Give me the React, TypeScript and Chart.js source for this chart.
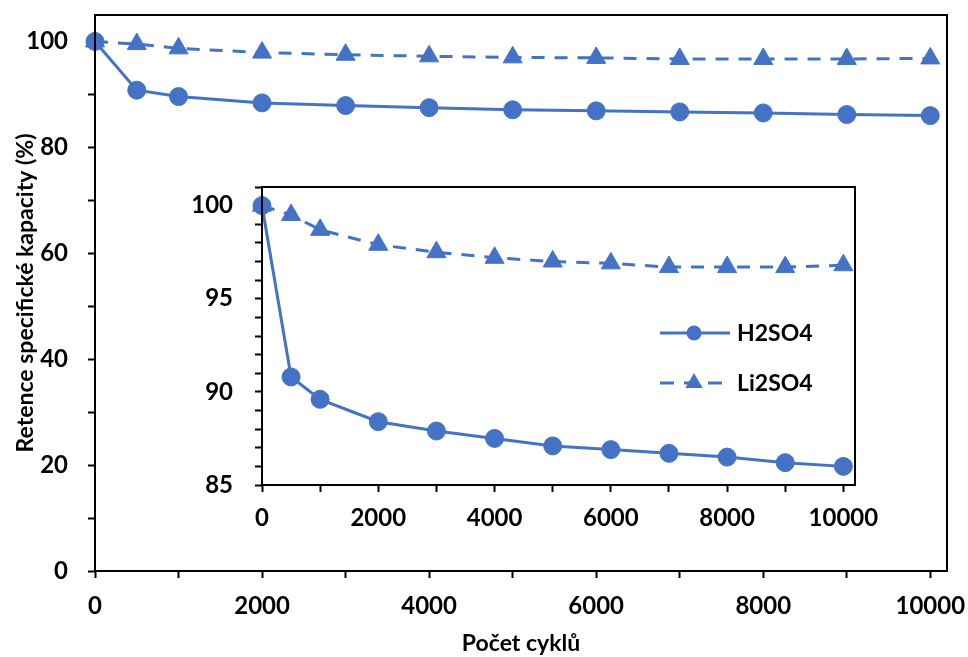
import React, { useEffect, useRef } from "react";
import { Chart, registerables } from "chart.js";

Chart.register(...registerables);

// ---- data ----
const cycles = [0, 500, 1000, 2000, 3000, 4000, 5000, 6000, 7000, 8000, 9000, 10000];
const h2so4 = [100, 90.8, 89.6, 88.4, 87.9, 87.5, 87.1, 86.9, 86.7, 86.5, 86.2, 86.0];
const li2so4 = [100, 99.5, 98.7, 97.9, 97.5, 97.2, 97.0, 96.9, 96.7, 96.7, 96.7, 96.8];
const seriesNames = ["H2SO4", "Li2SO4"];
const xTitle = "Počet cyklů";
const yTitle = "Retence specifické kapacity (%)";

// tick marks (all) and labelled ticks
const xTickMarks = [0, 1000, 2000, 3000, 4000, 5000, 6000, 7000, 8000, 9000, 10000];
const xTickLabels = [0, 2000, 4000, 6000, 8000, 10000];
const mainYTickMarks = [0, 10, 20, 30, 40, 50, 60, 70, 80, 90, 100];
const mainYTickLabels = [0, 20, 40, 60, 80, 100];
const insetYTickMarks = [85, 86, 87, 88, 89, 90, 91, 92, 93, 94, 95, 96, 97, 98, 99, 100, 101];
const insetYTickLabels = [85, 90, 95, 100];

const BLUE = "#4472C4";
const FONT = "Lato, 'Open Sans', sans-serif";

const boxPlugin = {
  id: "boxPlugin",
  afterDraw(chart: any) {
    const { ctx, chartArea: a } = chart;
    ctx.save();
    ctx.strokeStyle = "#000";
    ctx.lineWidth = 2;
    ctx.strokeRect(a.left, a.top, a.right - a.left, a.bottom - a.top);
    ctx.restore();
  },
};

const legendPlugin = {
  id: "insetLegend",
  afterDraw(chart: any) {
    const { ctx } = chart;
    const rows = [
      { name: seriesNames[0], y: 158, dash: [] as number[], style: "circle", r: 7.5 },
      { name: seriesNames[1], y: 208, dash: [14, 10], style: "triangle", r: 10 },
    ];
    ctx.save();
    for (const row of rows) {
      ctx.strokeStyle = BLUE;
      ctx.fillStyle = BLUE;
      ctx.lineWidth = 3;
      ctx.setLineDash(row.dash);
      ctx.beginPath();
      ctx.moveTo(480, row.y);
      ctx.lineTo(550, row.y);
      ctx.stroke();
      ctx.setLineDash([]);
      ctx.beginPath();
      if (row.style === "circle") {
        ctx.arc(514, row.y, row.r, 0, Math.PI * 2);
      } else {
        const r = row.r;
        ctx.moveTo(514, row.y - r);
        ctx.lineTo(514 + r * Math.sin((2 * Math.PI) / 3), row.y - r * Math.cos((2 * Math.PI) / 3));
        ctx.lineTo(514 - r * Math.sin((2 * Math.PI) / 3), row.y - r * Math.cos((2 * Math.PI) / 3));
        ctx.closePath();
      }
      ctx.fill();
      ctx.fillStyle = "#000";
      ctx.font = `bold 23px ${FONT}`;
      ctx.textAlign = "left";
      ctx.textBaseline = "middle";
      ctx.fillText(row.name, 557, row.y + 1);
    }
    ctx.restore();
  },
};

function makeDatasets() {
  return [
    {
      label: seriesNames[0],
      data: cycles.map((c, i) => ({ x: c, y: h2so4[i] })),
      borderColor: BLUE,
      backgroundColor: BLUE,
      borderWidth: 3,
      pointStyle: "circle",
      pointRadius: 9,
      pointBorderWidth: 1,
      tension: 0,
      clip: false as any,
    },
    {
      label: seriesNames[1],
      data: cycles.map((c, i) => ({ x: c, y: li2so4[i] })),
      borderColor: BLUE,
      backgroundColor: BLUE,
      borderWidth: 3,
      borderDash: [13, 10],
      pointStyle: "triangle",
      pointRadius: 11,
      pointBorderWidth: 1,
      tension: 0,
      clip: false as any,
    },
  ];
}

const tickFont = { family: FONT, size: 24, weight: "bold" as const };
const titleFont = { family: FONT, size: 23, weight: "bold" as const };
const gridOpts = { drawOnChartArea: false, drawTicks: true, tickLength: 7, tickWidth: 2, tickColor: "#000" };

function axis(marks: number[], labels: number[], size: { width?: number; height?: number }, extra: any) {
  return {
    type: "linear",
    bounds: "data",
    border: { display: false },
    grid: gridOpts,
    afterBuildTicks: (s: any) => {
      s.ticks = marks.map((v) => ({ value: v }));
    },
    afterFit: (s: any) => {
      if (size.width !== undefined) s.width = size.width;
      if (size.height !== undefined) s.height = size.height;
      s.paddingTop = 0;
      s.paddingBottom = 0;
      s.paddingLeft = 0;
      s.paddingRight = 0;
    },
    ...extra,
    ticks: {
      autoSkip: false,
      maxRotation: 0,
      color: "#000",
      font: tickFont,
      callback: (v: any) => (labels.includes(Number(v)) ? String(v) : ""),
      ...(extra.ticks || {}),
    },
  };
}

export default function App() {
  const mainRef = useRef<HTMLCanvasElement>(null);
  const insetRef = useRef<HTMLCanvasElement>(null);

  useEffect(() => {
    const main = new Chart(mainRef.current!, {
      type: "line",
      data: { datasets: makeDatasets() as any },
      plugins: [boxPlugin],
      options: {
        responsive: false,
        animation: false,
        devicePixelRatio: 1,
        layout: { padding: { top: 15, right: 21, left: 0, bottom: 0 } },
        plugins: { legend: { display: false }, tooltip: { enabled: false } },
        scales: {
          x: axis(xTickMarks, xTickLabels, { height: 86 }, {
            min: 0,
            max: 10200,
            ticks: { padding: 14 },
            title: { display: true, text: xTitle, color: "#000", font: titleFont, padding: { top: 0, bottom: 0 } },
          }),
          y: axis(mainYTickMarks, mainYTickLabels, { width: 95 }, {
            min: 0,
            max: 105,
            ticks: { padding: 20 },
            title: { display: true, text: yTitle, color: "#000", font: titleFont, padding: { top: 12, bottom: 0 } },
          }),
        } as any,
      },
    });

    const inset = new Chart(insetRef.current!, {
      type: "line",
      data: { datasets: makeDatasets() as any },
      plugins: [boxPlugin, legendPlugin],
      options: {
        responsive: false,
        animation: false,
        devicePixelRatio: 1,
        layout: { padding: { top: 11, right: 45, left: 0, bottom: 0 } },
        plugins: { legend: { display: false }, tooltip: { enabled: false } },
        scales: {
          x: axis(xTickMarks, xTickLabels, { height: 60 }, {
            min: 0,
            max: 10200,
            ticks: { padding: 12 },
          }),
          y: axis(insetYTickMarks, insetYTickLabels, { width: 82 }, {
            min: 85,
            max: 101,
            ticks: { padding: 22 },
          }),
        } as any,
      },
    });

    return () => {
      main.destroy();
      inset.destroy();
    };
  }, []);

  return (
    <div style={{ position: "absolute", left: 0, top: 0, width: 968, height: 657, background: "#fff" }}>
      <canvas ref={mainRef} width={968} height={657} style={{ position: "absolute", left: 0, top: 0, width: 968, height: 657 }} />
      <canvas ref={insetRef} width={720} height={370} style={{ position: "absolute", left: 180, top: 175, width: 720, height: 370 }} />
    </div>
  );
}
